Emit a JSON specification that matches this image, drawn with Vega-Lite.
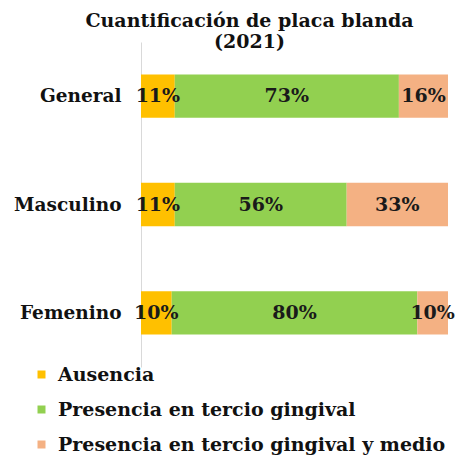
{
  "$schema": "https://vega.github.io/schema/vega-lite/v6.json",
  "autosize": "none",
  "width": 307,
  "height": 325,
  "padding": {"left": 141, "top": 42, "right": 9, "bottom": 92},
  "background": "white",
  "title": {
    "text": ["Cuantificación de placa blanda", "(2021)"],
    "font": "DejaVu Serif",
    "fontWeight": "bold",
    "fontSize": 19,
    "lineHeight": 21,
    "color": "#111111",
    "anchor": "middle",
    "frame": "group",
    "dx": -45,
    "offset": 0,
    "dy": 10
  },
  "data": {
    "values": [
      {"grupo": "General", "categoria": "Ausencia", "orden": 1, "proporcion": 0.11},
      {"grupo": "General", "categoria": "Presencia en tercio gingival", "orden": 2, "proporcion": 0.73},
      {"grupo": "General", "categoria": "Presencia en tercio gingival y medio", "orden": 3, "proporcion": 0.16},
      {"grupo": "Masculino", "categoria": "Ausencia", "orden": 1, "proporcion": 0.11},
      {"grupo": "Masculino", "categoria": "Presencia en tercio gingival", "orden": 2, "proporcion": 0.56},
      {"grupo": "Masculino", "categoria": "Presencia en tercio gingival y medio", "orden": 3, "proporcion": 0.33},
      {"grupo": "Femenino", "categoria": "Ausencia", "orden": 1, "proporcion": 0.10},
      {"grupo": "Femenino", "categoria": "Presencia en tercio gingival", "orden": 2, "proporcion": 0.80},
      {"grupo": "Femenino", "categoria": "Presencia en tercio gingival y medio", "orden": 3, "proporcion": 0.10}
    ]
  },
  "transform": [
    {"stack": "proporcion", "groupby": ["grupo"], "sort": [{"field": "orden", "order": "ascending"}], "as": ["x0", "x1"]},
    {"calculate": "(datum.x0 + datum.x1) / 2", "as": "xm"}
  ],
  "encoding": {
    "y": {
      "field": "grupo",
      "type": "nominal",
      "sort": ["General", "Masculino", "Femenino"],
      "scale": {"paddingInner": 0.6, "paddingOuter": 0.3},
      "axis": {
        "title": null,
        "ticks": false,
        "domain": true,
        "domainColor": "#d9d9d9",
        "domainWidth": 1,
        "labelFont": "DejaVu Serif",
        "labelFontWeight": "bold",
        "labelFontSize": 18.5,
        "labelColor": "#111111",
        "labelPadding": 20,
        "grid": false
      }
    }
  },
  "layer": [
    {
      "mark": {"type": "bar"},
      "encoding": {
        "x": {"field": "x0", "type": "quantitative", "scale": {"domain": [0, 1], "nice": false}, "axis": null},
        "x2": {"field": "x1"},
        "color": {
          "field": "categoria",
          "type": "nominal",
          "scale": {
            "domain": ["Ausencia", "Presencia en tercio gingival", "Presencia en tercio gingival y medio"],
            "range": ["#FFC000", "#92D050", "#F4B183"]
          },
          "legend": {
            "title": null,
            "orient": "none",
            "legendX": -109,
            "legendY": 323,
            "direction": "vertical",
            "symbolType": "square",
            "symbolSize": 64,
            "symbolStrokeWidth": 0,
            "rowPadding": 15,
            "labelFont": "DejaVu Serif",
            "labelFontWeight": "bold",
            "labelFontSize": 19,
            "labelColor": "#111111",
            "labelOffset": 7,
            "labelLimit": 500
          }
        }
      }
    },
    {
      "mark": {"type": "text", "font": "DejaVu Serif", "fontWeight": "bold", "fontSize": 19, "color": "#1a1a1a", "baseline": "middle"},
      "encoding": {
        "x": {"field": "xm", "type": "quantitative"},
        "text": {"field": "proporcion", "type": "quantitative", "format": ".0%"}
      }
    }
  ],
  "config": {"view": {"stroke": null}}
}
